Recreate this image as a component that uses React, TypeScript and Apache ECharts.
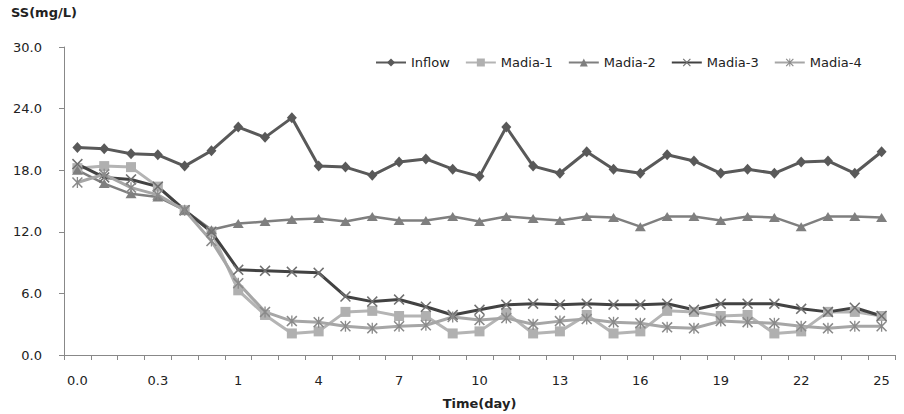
import React, { useEffect, useRef } from "react";
import * as echarts from "echarts";

const categories = [
  "0.0", "0.1", "0.2", "0.3", "0.4", "0.5",
  "1", "2", "3", "4", "5", "6", "7", "8", "9", "10", "11", "12", "13",
  "14", "15", "16", "17", "18", "19", "20", "21", "22", "23", "24", "25",
];

const inflow = [20.2, 20.1, 19.6, 19.5, 18.4, 19.9, 22.2, 21.2, 23.1, 18.4, 18.3, 17.5, 18.8, 19.1, 18.1, 17.4, 22.2, 18.4, 17.7, 19.8, 18.1, 17.7, 19.5, 18.9, 17.7, 18.1, 17.7, 18.8, 18.9, 17.7, 19.8];
const madia1 = [18.2, 18.4, 18.3, 16.4, 14.1, 12.0, 6.3, 3.9, 2.1, 2.3, 4.2, 4.3, 3.8, 3.8, 2.1, 2.3, 4.1, 2.1, 2.3, 3.9, 2.1, 2.3, 4.3, 4.2, 3.8, 3.9, 2.1, 2.3, 4.2, 4.2, 3.8];
const madia2 = [18.0, 16.7, 15.7, 15.4, 14.1, 12.2, 12.8, 13.0, 13.2, 13.3, 13.0, 13.5, 13.1, 13.1, 13.5, 13.0, 13.5, 13.3, 13.1, 13.5, 13.4, 12.5, 13.5, 13.5, 13.1, 13.5, 13.4, 12.5, 13.5, 13.5, 13.4];
const madia3 = [18.6, 17.3, 17.1, 16.4, 14.1, 12.0, 8.3, 8.2, 8.1, 8.0, 5.7, 5.2, 5.4, 4.7, 3.9, 4.4, 4.9, 5.0, 4.9, 5.0, 4.9, 4.9, 5.0, 4.4, 5.0, 5.0, 5.0, 4.5, 4.2, 4.6, 3.8];
const madia4 = [16.8, 17.6, 16.3, 15.6, 14.1, 11.1, 7.0, 4.2, 3.3, 3.2, 2.8, 2.6, 2.8, 2.9, 3.7, 3.4, 3.6, 3.0, 3.3, 3.5, 3.2, 3.1, 2.7, 2.6, 3.3, 3.2, 3.1, 2.8, 2.6, 2.8, 2.8];

const seriesNames = ["Inflow", "Madia-1", "Madia-2", "Madia-3", "Madia-4"];

const X_PATH = "path://M0,1 L1,0 L5,4 L9,0 L10,1 L6,5 L10,9 L9,10 L5,6 L1,10 L0,9 L4,5 Z";
const STAR_PATH = "path://M0,1 L1,0 L5,4 L9,0 L10,1 L6,5 L10,9 L9,10 L5,6 L1,10 L0,9 L4,5 Z M4.4,0 L5.6,0 L5.6,10 L4.4,10 Z";

const FONT = "DejaVu Sans";

export default function App() {
  const ref = useRef<HTMLDivElement>(null);

  useEffect(() => {
    if (!ref.current) return;
    const chart = echarts.init(ref.current, undefined, { renderer: "svg" });

    const mk = (
      name: string,
      data: number[],
      lineColor: string,
      symbol: string,
      symbolSize: number | number[],
      symColor: string,
      width: number
    ) => ({
      name,
      type: "line",
      data,
      symbol,
      symbolSize,
      showAllSymbol: true,
      lineStyle: { color: lineColor, width },
      itemStyle: { color: symColor, borderWidth: 0 },
      emphasis: { disabled: true },
    });

    chart.setOption({
      animation: false,
      title: {
        text: "SS(mg/L)",
        left: 11,
        top: 6,
        padding: 0,
        textStyle: { fontFamily: FONT, fontSize: 13, fontWeight: "bold", color: "#222" },
      },
      legend: {
        data: seriesNames,
        left: 370,
        top: 51,
        itemWidth: 30,
        itemHeight: 10,
        itemGap: 15,
        textStyle: { fontFamily: FONT, fontSize: 13, color: "#222" },
      },
      grid: { left: 64, right: 9, top: 47, bottom: 59, containLabel: false, outerBoundsMode: "none" },
      xAxis: {
        type: "category",
        data: categories,
        boundaryGap: true,
        name: "Time(day)",
        nameLocation: "middle",
        nameGap: 42,
        nameTextStyle: { fontFamily: FONT, fontSize: 13, fontWeight: "bold", color: "#222" },
        axisLine: { lineStyle: { color: "#888", width: 1 } },
        axisTick: { show: true, interval: 0, length: 5, alignWithLabel: false, lineStyle: { color: "#888" } },
        axisLabel: { interval: 2, margin: 19, fontFamily: FONT, fontSize: 13, color: "#222" },
        splitLine: { show: false },
      },
      yAxis: {
        type: "value",
        min: 0,
        max: 30,
        interval: 6,
        axisLine: { show: true, lineStyle: { color: "#888", width: 1 } },
        axisTick: { show: true, length: 5, lineStyle: { color: "#888" } },
        axisLabel: {
          margin: 22,
          fontFamily: FONT,
          fontSize: 13,
          color: "#222",
          formatter: (v: number) => v.toFixed(1),
        },
        splitLine: { show: false },
      },
      series: [
        mk("Inflow", inflow, "#595959", "diamond", [10, 11], "#595959", 3),
        mk("Madia-1", madia1, "#b4b4b4", "rect", 10, "#b0b0b0", 3),
        mk("Madia-2", madia2, "#7f7f7f", "triangle", [11, 9], "#7f7f7f", 2.5),
        mk("Madia-3", madia3, "#424242", X_PATH, 11, "#707070", 3),
        mk("Madia-4", madia4, "#a6a6a6", STAR_PATH, 11, "#8a8a8a", 3),
      ],
    });

    return () => chart.dispose();
  }, []);

  return <div ref={ref} style={{ width: 904, height: 414, position: "absolute", left: 0, top: 0 }} />;
}
